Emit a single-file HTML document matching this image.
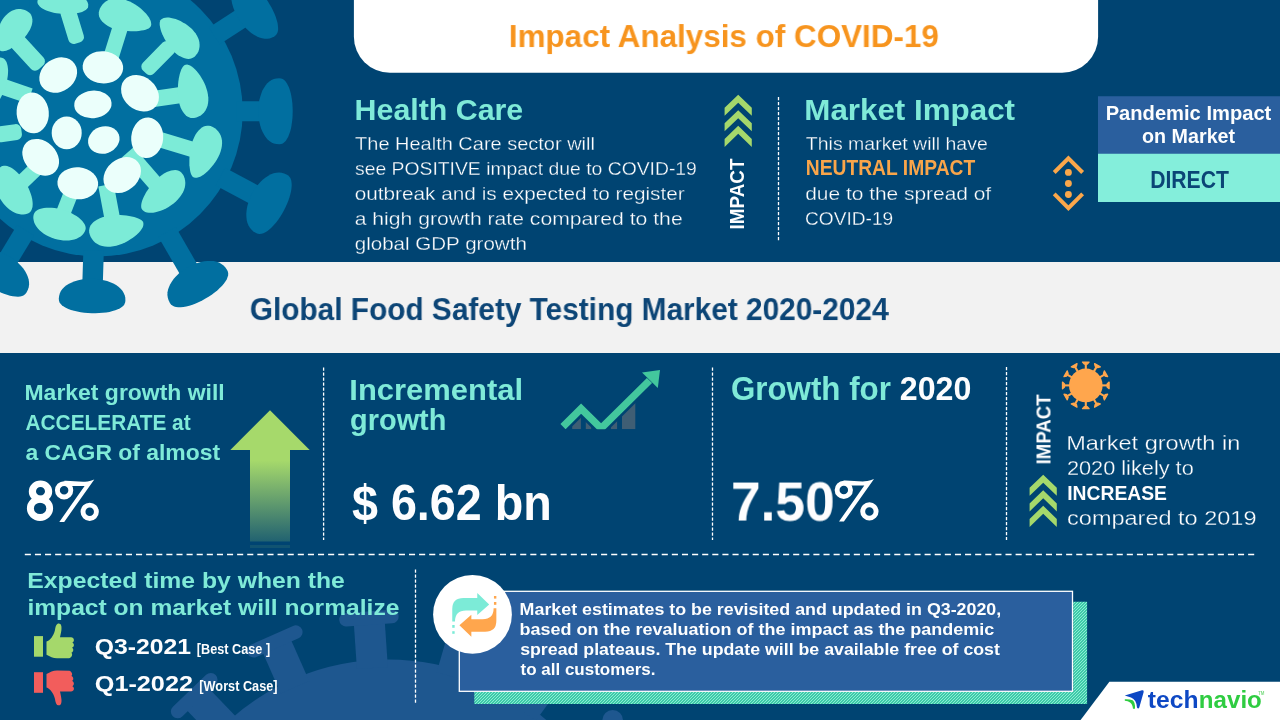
<!DOCTYPE html>
<html><head><meta charset="utf-8"><title>Impact Analysis of COVID-19</title>
<style>
html,body{margin:0;padding:0;background:#004472;}
body{width:1280px;height:720px;overflow:hidden;font-family:"Liberation Sans",sans-serif;}
svg{display:block;position:absolute;left:0;top:0;will-change:transform}
text{font-family:"Liberation Sans",sans-serif;white-space:pre}
</style></head><body>
<svg width="1280" height="720" viewBox="0 0 1280 720">
<defs>
<linearGradient id="garrow" x1="0" y1="0" x2="0" y2="1"><stop offset="0" stop-color="#a6d96b"/><stop offset="0.12" stop-color="#a6d96b"/><stop offset="1" stop-color="#a6d96b" stop-opacity="0.2"/></linearGradient>
<pattern id="hatch" patternUnits="userSpaceOnUse" width="3" height="3"><rect width="3" height="3" fill="#1fba96"/><path d="M-0.75,0.75 l1.5,-1.5 M0,3 l3,-3 M2.25,3.75 l1.5,-1.5" stroke="#92f2da" stroke-width="1.06"/></pattern>
</defs>
<rect width="1280" height="720" fill="#004472"/>
<g fill="#1e578f" stroke="#1e578f">
<circle cx="388.0" cy="897.0" r="237.5" stroke="none"/>
<line x1="159.8" y1="872.6" x2="110.1" y2="867.3" stroke-width="31" />
<line x1="107.6" y1="890.2" x2="112.5" y2="844.4" stroke-width="13.5" stroke-linecap="round"/>
<line x1="181.9" y1="796.0" x2="137.0" y2="774.0" stroke-width="31" />
<line x1="126.9" y1="794.7" x2="147.1" y2="753.4" stroke-width="13.5" stroke-linecap="round"/>
<line x1="228.9" y1="731.6" x2="194.2" y2="695.6" stroke-width="31" />
<line x1="177.6" y1="711.6" x2="210.8" y2="679.7" stroke-width="13.5" stroke-linecap="round"/>
<line x1="295.0" y1="687.2" x2="274.8" y2="641.5" stroke-width="31" />
<line x1="253.7" y1="650.8" x2="295.8" y2="632.1" stroke-width="13.5" stroke-linecap="round"/>
<line x1="372.4" y1="668.0" x2="369.0" y2="618.1" stroke-width="31" />
<line x1="346.0" y1="619.7" x2="391.9" y2="616.6" stroke-width="13.5" stroke-linecap="round"/>
<line x1="451.6" y1="676.5" x2="465.5" y2="628.5" stroke-width="31" />
<line x1="443.4" y1="622.1" x2="487.6" y2="634.8" stroke-width="13.5" stroke-linecap="round"/>
<line x1="523.2" y1="711.6" x2="552.7" y2="671.2" stroke-width="31" />
<line x1="534.1" y1="657.6" x2="571.3" y2="684.7" stroke-width="13.5" stroke-linecap="round"/>
<line x1="578.5" y1="769.0" x2="620.0" y2="741.1" stroke-width="31" />
<circle cx="612.7" cy="720.3" r="10.3" stroke="none"/>
<line x1="610.8" y1="841.9" x2="659.3" y2="829.9" stroke-width="31" />
<line x1="653.8" y1="807.5" x2="664.8" y2="852.2" stroke-width="13.5" stroke-linecap="round"/>
</g>
<rect x="0" y="262" width="1280" height="91" fill="#f2f2f2"/>
<g fill="#016fa0" stroke="#016fa0">
<circle cx="97.7" cy="111.5" r="145.0" stroke="none"/>
<circle cx="0" cy="0" r="30" stroke="none"/>
<line x1="214.3" y1="35.9" x2="253.5" y2="10.5" stroke-width="20.0"/>
<polygon stroke="none" points="238.7,-19.2 240.4,-20.1 242.0,-20.4 243.8,-20.3 245.7,-19.9 247.7,-19.1 249.9,-17.9 252.1,-16.4 254.4,-14.6 256.7,-12.5 259.0,-10.1 261.3,-7.5 263.5,-4.7 265.7,-1.8 267.8,1.3 269.7,4.4 271.5,7.6 273.1,10.8 274.6,13.9 275.8,17.0 276.7,20.0 277.5,22.8 277.9,25.4 278.1,27.8 278.1,30.0 277.7,31.9 277.0,33.6 276.0,35.0 274.6,36.2 274.6,36.2 272.1,37.6 269.6,38.4 267.2,38.8 264.6,38.7 262.0,38.3 259.3,37.5 256.6,36.3 253.9,34.8 251.2,32.9 248.6,30.8 246.0,28.3 243.6,25.7 241.3,22.8 239.2,19.7 237.3,16.6 235.6,13.3 234.2,10.0 233.0,6.7 232.1,3.4 231.5,0.2 231.2,-2.9 231.2,-5.8 231.6,-8.6 232.3,-11.2 233.3,-13.5 234.6,-15.6 236.4,-17.5 238.7,-19.2"/>
<line x1="236.7" y1="111.3" x2="275.5" y2="111.2" stroke-width="20.0"/>
<polygon stroke="none" points="279.2,78.2 281.1,78.4 282.7,79.0 284.2,80.0 285.6,81.5 286.8,83.2 288.0,85.4 289.1,87.8 290.0,90.6 290.8,93.6 291.5,96.9 292.0,100.3 292.4,103.8 292.6,107.5 292.7,111.2 292.6,114.9 292.4,118.5 292.0,122.1 291.5,125.5 290.9,128.7 290.1,131.8 289.1,134.5 288.1,137.0 286.9,139.1 285.7,140.9 284.3,142.3 282.8,143.4 281.2,144.0 279.3,144.2 279.3,144.2 276.4,144.0 273.9,143.4 271.6,142.4 269.4,140.9 267.4,139.2 265.6,137.0 264.0,134.6 262.5,131.8 261.2,128.8 260.2,125.5 259.4,122.1 258.8,118.6 258.4,114.9 258.3,111.2 258.4,107.5 258.8,103.9 259.3,100.3 260.2,96.9 261.2,93.7 262.4,90.6 263.9,87.9 265.5,85.4 267.3,83.3 269.3,81.5 271.5,80.1 273.8,79.0 276.3,78.4 279.2,78.2"/>
<line x1="220.4" y1="176.7" x2="268.0" y2="202.0" stroke-width="20.0"/>
<polygon stroke="none" points="287.0,174.7 288.6,175.8 289.8,177.2 290.7,178.8 291.3,180.7 291.6,182.9 291.7,185.4 291.5,188.1 291.1,191.0 290.4,194.0 289.5,197.2 288.4,200.5 287.1,203.8 285.6,207.1 283.9,210.4 282.1,213.7 280.2,216.8 278.2,219.7 276.1,222.5 273.9,225.0 271.8,227.3 269.6,229.3 267.5,230.9 265.4,232.3 263.4,233.2 261.5,233.8 259.6,234.0 257.8,233.7 256.0,233.0 256.0,233.0 253.4,231.4 251.4,229.6 249.7,227.6 248.4,225.3 247.4,222.7 246.7,219.9 246.4,216.9 246.3,213.8 246.6,210.5 247.1,207.1 248.0,203.7 249.1,200.3 250.5,196.9 252.1,193.6 253.9,190.3 256.0,187.3 258.2,184.5 260.6,181.8 263.0,179.5 265.6,177.4 268.3,175.7 270.9,174.3 273.6,173.3 276.3,172.7 279.0,172.6 281.6,172.8 284.2,173.5 287.0,174.7"/>
<line x1="167.1" y1="231.9" x2="196.5" y2="283.0" stroke-width="20.0"/>
<polygon stroke="none" points="227.1,270.0 227.9,271.8 228.2,273.5 228.1,275.4 227.5,277.3 226.7,279.4 225.4,281.5 223.8,283.7 221.9,285.9 219.7,288.1 217.3,290.4 214.6,292.5 211.7,294.7 208.6,296.7 205.5,298.6 202.2,300.4 199.0,302.0 195.7,303.4 192.5,304.7 189.3,305.7 186.3,306.5 183.4,307.0 180.7,307.3 178.2,307.3 176.0,307.0 174.1,306.5 172.4,305.6 171.0,304.5 169.9,302.9 169.9,302.9 168.5,300.1 167.8,297.6 167.4,295.0 167.5,292.3 168.1,289.6 169.0,286.9 170.2,284.2 171.9,281.5 173.8,278.8 176.1,276.3 178.6,273.8 181.4,271.5 184.4,269.4 187.5,267.4 190.8,265.7 194.1,264.2 197.5,262.9 200.9,262.0 204.3,261.3 207.5,260.9 210.7,260.9 213.7,261.1 216.5,261.7 219.1,262.6 221.4,263.9 223.5,265.5 225.4,267.4 227.1,270.0"/>
<line x1="93.6" y1="250.4" x2="92.2" y2="296.0" stroke-width="20.5"/>
<polygon stroke="none" points="125.4,300.8 125.1,302.6 124.4,304.2 123.4,305.7 121.9,307.0 120.0,308.2 117.8,309.3 115.3,310.3 112.5,311.1 109.5,311.9 106.2,312.4 102.7,312.8 99.1,313.1 95.4,313.2 91.7,313.2 88.0,313.0 84.3,312.7 80.7,312.2 77.3,311.6 74.0,310.8 71.0,309.9 68.3,308.9 65.8,307.8 63.7,306.5 61.9,305.2 60.5,303.8 59.5,302.3 59.0,300.7 58.8,298.8 58.8,298.8 59.1,295.9 59.8,293.4 60.9,291.1 62.4,289.0 64.3,287.1 66.5,285.3 69.0,283.7 71.8,282.4 74.9,281.2 78.2,280.3 81.7,279.5 85.3,279.1 89.0,278.8 92.7,278.8 96.4,279.0 100.1,279.5 103.7,280.2 107.1,281.1 110.3,282.3 113.3,283.6 116.1,285.1 118.5,286.8 120.6,288.7 122.4,290.8 123.7,293.0 124.7,295.3 125.3,297.8 125.4,300.8"/>
<line x1="25.6" y1="230.3" x2="0.3" y2="272.0" stroke-width="20.0"/>
<polygon stroke="none" points="26.5,292.5 25.3,294.1 23.9,295.2 22.2,296.0 20.2,296.5 18.0,296.7 15.5,296.6 12.9,296.3 10.0,295.7 7.0,294.8 3.9,293.7 0.6,292.4 -2.6,290.9 -5.8,289.2 -9.0,287.4 -12.2,285.4 -15.2,283.3 -18.0,281.1 -20.6,278.9 -23.0,276.6 -25.2,274.3 -27.0,272.1 -28.6,269.8 -29.8,267.7 -30.6,265.6 -31.1,263.7 -31.1,261.8 -30.8,260.0 -30.0,258.3 -30.0,258.3 -28.2,255.8 -26.3,253.8 -24.2,252.3 -21.8,251.1 -19.2,250.3 -16.4,249.7 -13.4,249.5 -10.2,249.7 -7.0,250.1 -3.6,250.9 -0.3,251.9 3.1,253.2 6.4,254.8 9.6,256.6 12.7,258.6 15.7,260.8 18.4,263.2 20.9,265.7 23.1,268.3 25.0,271.0 26.5,273.7 27.7,276.5 28.6,279.2 29.0,282.0 29.1,284.6 28.7,287.2 27.9,289.8 26.5,292.5"/>
</g>
<g fill="#7cebd7" stroke="#7cebd7">
<rect x="0" y="-8.5" width="39.8" height="17.0" rx="5.5" stroke="none" transform="translate(14.0 38.0) rotate(47.3)"/>
<polygon stroke="none" points="28.7,12.2 26.9,11.0 24.9,10.1 22.8,9.4 20.7,9.1 18.4,9.0 16.2,9.3 14.0,9.9 11.9,10.8 9.8,12.0 7.9,13.5 6.0,15.2 4.3,17.1 2.7,19.3 1.3,21.6 0.1,24.0 -1.0,26.5 -1.9,29.1 -2.6,31.6 -3.2,34.2 -3.6,36.6 -3.8,39.0 -3.8,41.2 -3.7,43.3 -3.3,45.1 -2.8,46.8 -2.1,48.3 -1.2,49.5 -0.2,50.5 -0.2,50.5 0.8,51.0 1.9,51.3 3.2,51.3 4.6,51.1 6.2,50.7 7.9,50.1 9.8,49.2 11.7,48.1 13.7,46.9 15.7,45.5 17.8,43.9 19.8,42.2 21.8,40.4 23.7,38.4 25.4,36.4 27.1,34.3 28.5,32.1 29.8,30.0 30.8,27.8 31.6,25.6 32.1,23.5 32.4,21.5 32.4,19.5 32.1,17.7 31.6,16.0 30.9,14.5 29.9,13.3 28.7,12.2"/>
<rect x="0" y="-8.0" width="36.6" height="16.0" rx="5.5" stroke="none" transform="translate(67.0 8.0) rotate(73.0)"/>
<polygon stroke="none" points="37.4,1.7 37.7,0.2 38.3,-1.3 39.3,-2.8 40.5,-4.1 42.0,-5.3 43.7,-6.5 45.7,-7.5 47.9,-8.3 50.3,-9.0 52.9,-9.5 55.6,-9.9 58.4,-10.1 61.2,-10.1 64.0,-10.0 66.9,-9.6 69.7,-9.1 72.4,-8.4 74.9,-7.6 77.4,-6.6 79.6,-5.5 81.7,-4.3 83.4,-3.0 85.0,-1.6 86.2,-0.1 87.2,1.4 87.9,3.0 88.2,4.6 88.2,6.1 88.2,6.1 88.0,7.2 87.4,8.3 86.5,9.3 85.3,10.3 83.9,11.1 82.1,11.9 80.2,12.6 78.0,13.1 75.6,13.6 73.1,13.9 70.4,14.1 67.6,14.2 64.8,14.1 62.0,14.0 59.1,13.6 56.3,13.2 53.6,12.7 51.0,12.0 48.6,11.2 46.3,10.4 44.2,9.4 42.4,8.4 40.9,7.4 39.6,6.3 38.6,5.1 37.9,4.0 37.5,2.8 37.4,1.7"/>
<rect x="0" y="-7.8" width="36.7" height="15.5" rx="0.0" stroke="none" transform="translate(121.0 25.0) rotate(107.4)"/>
<polygon stroke="none" points="99.1,10.9 99.9,8.6 101.1,6.4 102.5,4.5 104.2,2.7 106.2,1.2 108.3,0.0 110.7,-0.9 113.2,-1.4 115.8,-1.7 118.6,-1.6 121.4,-1.2 124.2,-0.6 127.0,0.4 129.8,1.6 132.6,3.0 135.2,4.6 137.8,6.3 140.2,8.1 142.4,10.0 144.4,11.9 146.2,13.8 147.7,15.7 149.0,17.6 150.0,19.4 150.7,21.1 151.1,22.7 151.2,24.3 151.0,25.7 151.0,25.7 150.5,26.7 149.8,27.6 148.7,28.4 147.3,29.1 145.6,29.7 143.6,30.2 141.4,30.6 138.9,30.9 136.3,31.2 133.5,31.3 130.6,31.3 127.6,31.1 124.6,30.8 121.6,30.4 118.6,29.8 115.7,29.1 112.9,28.2 110.3,27.2 107.9,26.0 105.7,24.6 103.8,23.1 102.2,21.5 100.8,19.8 99.8,18.0 99.1,16.2 98.8,14.4 98.8,12.6 99.1,10.9"/>
<rect x="0" y="-7.8" width="39.2" height="15.5" rx="5.5" stroke="none" transform="translate(172.0 44.0) rotate(134.5)"/>
<polygon stroke="none" points="161.1,19.5 162.3,18.7 163.7,18.0 165.3,17.7 167.1,17.5 169.0,17.6 171.1,17.9 173.3,18.4 175.7,19.1 178.1,20.0 180.5,21.1 182.9,22.4 185.4,23.8 187.7,25.5 189.9,27.2 192.0,29.1 193.8,31.2 195.5,33.3 196.9,35.5 198.0,37.8 198.9,40.1 199.4,42.5 199.6,44.8 199.5,47.1 199.1,49.3 198.4,51.4 197.4,53.3 196.1,55.1 194.6,56.7 194.6,56.7 193.3,57.6 191.8,58.3 190.2,58.7 188.4,58.9 186.6,58.7 184.6,58.3 182.6,57.6 180.6,56.6 178.5,55.4 176.5,53.9 174.6,52.2 172.7,50.2 170.8,48.2 169.1,46.0 167.5,43.7 166.0,41.3 164.6,38.9 163.4,36.5 162.3,34.2 161.4,31.9 160.7,29.7 160.2,27.7 159.8,25.8 159.7,24.2 159.7,22.7 160.0,21.4 160.4,20.3 161.1,19.5"/>
<rect x="0" y="-8.0" width="38.4" height="16.0" rx="0.0" stroke="none" transform="translate(188.0 94.0) rotate(171.8)"/>
<polygon stroke="none" points="185.7,64.7 187.1,64.6 188.6,64.9 190.1,65.5 191.7,66.5 193.3,67.7 194.9,69.2 196.6,71.0 198.2,73.0 199.9,75.2 201.4,77.7 202.9,80.3 204.3,83.0 205.5,85.8 206.5,88.7 207.4,91.7 207.9,94.6 208.3,97.5 208.3,100.3 208.1,103.0 207.6,105.6 206.7,108.0 205.6,110.3 204.2,112.2 202.5,114.0 200.7,115.5 198.6,116.6 196.4,117.5 194.1,118.0 194.1,118.0 192.4,118.1 190.7,117.9 189.0,117.3 187.3,116.4 185.7,115.2 184.2,113.6 182.9,111.8 181.7,109.7 180.6,107.4 179.7,104.8 179.0,102.1 178.5,99.3 178.1,96.3 177.9,93.3 177.8,90.2 177.9,87.2 178.1,84.2 178.4,81.3 178.8,78.6 179.3,76.0 179.9,73.6 180.6,71.5 181.3,69.6 182.1,68.0 182.9,66.7 183.8,65.7 184.7,65.0 185.7,64.7"/>
<rect x="0" y="-7.8" width="39.7" height="15.5" rx="0.0" stroke="none" transform="translate(198.0 151.0) rotate(-163.2)"/>
<polygon stroke="none" points="210.6,126.1 212.8,127.0 214.9,128.2 216.7,129.7 218.3,131.4 219.7,133.4 220.7,135.6 221.5,138.0 222.0,140.5 222.1,143.1 221.9,145.8 221.4,148.6 220.6,151.4 219.6,154.2 218.3,157.0 216.8,159.7 215.2,162.3 213.4,164.8 211.5,167.1 209.6,169.3 207.6,171.2 205.7,173.0 203.8,174.5 201.9,175.7 200.2,176.7 198.5,177.3 196.9,177.7 195.3,177.7 194.0,177.5 194.0,177.5 193.0,177.0 192.2,176.2 191.5,175.1 190.9,173.7 190.4,171.9 190.0,170.0 189.7,167.7 189.4,165.3 189.4,162.7 189.4,159.9 189.5,157.0 189.8,154.0 190.2,151.0 190.7,148.0 191.4,145.1 192.2,142.2 193.2,139.5 194.3,136.9 195.6,134.5 197.0,132.4 198.6,130.5 200.2,128.9 201.9,127.6 203.7,126.6 205.4,126.0 207.2,125.7 209.0,125.7 210.6,126.1"/>
<rect x="0" y="-7.8" width="48.9" height="15.5" rx="0.0" stroke="none" transform="translate(160.0 189.0) rotate(-130.9)"/>
<polygon stroke="none" points="181.3,172.6 182.7,174.2 183.8,176.1 184.6,178.2 185.1,180.4 185.3,182.7 185.2,185.1 184.8,187.5 184.0,190.0 182.9,192.4 181.5,194.8 179.9,197.1 178.0,199.3 175.9,201.5 173.6,203.4 171.1,205.3 168.6,206.9 166.0,208.4 163.3,209.7 160.7,210.7 158.1,211.6 155.5,212.2 153.1,212.7 150.9,212.8 148.8,212.8 146.9,212.5 145.2,211.9 143.7,211.1 142.5,210.1 142.5,210.1 141.8,209.1 141.3,208.0 141.2,206.6 141.2,204.9 141.5,203.1 142.0,201.2 142.8,199.1 143.8,196.8 145.0,194.5 146.3,192.1 147.9,189.7 149.6,187.2 151.4,184.9 153.4,182.6 155.5,180.4 157.7,178.3 159.9,176.5 162.2,174.8 164.5,173.3 166.8,172.1 169.0,171.2 171.2,170.6 173.3,170.2 175.2,170.1 177.0,170.3 178.7,170.8 180.1,171.6 181.3,172.6"/>
<rect x="0" y="-7.8" width="37.7" height="15.5" rx="0.0" stroke="none" transform="translate(113.0 222.0) rotate(-100.7)"/>
<polygon stroke="none" points="89.2,232.4 89.8,234.8 90.7,237.0 92.0,239.1 93.5,241.0 95.3,242.7 97.4,244.1 99.6,245.3 102.1,246.1 104.8,246.6 107.6,246.8 110.4,246.7 113.4,246.3 116.3,245.7 119.3,244.8 122.2,243.7 125.1,242.4 127.8,240.9 130.5,239.3 132.9,237.7 135.2,236.0 137.2,234.2 139.0,232.5 140.5,230.8 141.7,229.1 142.6,227.5 143.2,225.9 143.4,224.3 143.4,222.9 143.4,222.9 143.0,221.8 142.3,220.9 141.3,220.0 139.9,219.2 138.3,218.4 136.4,217.7 134.2,217.0 131.7,216.5 129.1,216.0 126.3,215.6 123.3,215.3 120.3,215.1 117.2,215.1 114.1,215.2 111.0,215.5 108.0,215.9 105.1,216.5 102.3,217.3 99.8,218.3 97.4,219.4 95.3,220.7 93.5,222.1 91.9,223.7 90.7,225.3 89.8,227.1 89.3,228.9 89.1,230.6 89.2,232.4"/>
<rect x="0" y="-7.2" width="30.1" height="14.5" rx="0.0" stroke="none" transform="translate(62.0 216.0) rotate(-68.6)"/>
<polygon stroke="none" points="33.8,214.2 33.4,216.1 33.3,218.1 33.6,220.1 34.1,222.2 35.0,224.3 36.2,226.3 37.7,228.3 39.5,230.2 41.6,232.0 43.8,233.7 46.3,235.2 48.9,236.6 51.7,237.8 54.5,238.7 57.4,239.5 60.4,240.1 63.3,240.4 66.2,240.5 69.0,240.4 71.7,240.0 74.3,239.5 76.6,238.7 78.8,237.6 80.7,236.4 82.3,235.1 83.6,233.5 84.7,231.8 85.4,230.0 85.4,230.0 85.7,228.6 85.6,227.1 85.2,225.6 84.5,224.0 83.4,222.4 82.1,220.8 80.5,219.2 78.6,217.6 76.5,216.1 74.1,214.7 71.6,213.3 68.9,212.1 66.2,211.0 63.3,210.1 60.4,209.2 57.4,208.6 54.6,208.1 51.7,207.8 49.0,207.7 46.4,207.8 43.9,208.0 41.7,208.4 39.7,209.0 37.9,209.8 36.4,210.7 35.2,211.7 34.4,212.9 33.8,214.2"/>
<rect x="0" y="-7.5" width="33.2" height="15.0" rx="0.0" stroke="none" transform="translate(18.0 186.0) rotate(-43.8)"/>
<polygon stroke="none" points="1.2,166.6 -0.4,167.8 -1.8,169.2 -3.0,170.9 -3.9,172.8 -4.7,174.9 -5.1,177.3 -5.3,179.7 -5.3,182.3 -5.0,185.0 -4.4,187.8 -3.6,190.6 -2.6,193.4 -1.3,196.1 0.1,198.7 1.8,201.3 3.6,203.7 5.6,205.9 7.7,207.9 9.8,209.7 12.1,211.2 14.3,212.5 16.6,213.4 18.9,214.1 21.1,214.5 23.3,214.6 25.3,214.3 27.2,213.8 29.0,212.9 29.0,212.9 30.1,212.0 31.0,210.9 31.7,209.5 32.3,207.8 32.6,205.9 32.7,203.8 32.5,201.5 32.2,199.1 31.6,196.6 30.8,194.0 29.8,191.3 28.7,188.6 27.3,185.9 25.9,183.3 24.2,180.7 22.5,178.3 20.7,176.0 18.8,173.9 16.8,172.0 14.8,170.3 12.9,168.8 10.9,167.6 9.0,166.7 7.2,166.1 5.5,165.8 3.9,165.8 2.4,166.0 1.2,166.6"/>
<rect x="0" y="-8.0" width="40.2" height="16.0" rx="0.0" stroke="none" transform="translate(-8.0 83.0) rotate(18.9)"/>
<polygon stroke="none" points="2.5,58.0 0.7,57.6 -1.2,57.5 -3.1,57.8 -5.1,58.4 -7.0,59.3 -9.0,60.5 -10.9,62.0 -12.7,63.8 -14.5,65.8 -16.2,68.0 -17.7,70.5 -19.1,73.1 -20.3,75.8 -21.3,78.7 -22.2,81.6 -22.8,84.5 -23.2,87.4 -23.4,90.3 -23.4,93.1 -23.1,95.8 -22.7,98.3 -22.0,100.6 -21.2,102.8 -20.1,104.7 -18.8,106.3 -17.4,107.6 -15.9,108.6 -14.2,109.4 -14.2,109.4 -12.9,109.6 -11.5,109.5 -10.1,109.1 -8.5,108.4 -7.0,107.4 -5.4,106.0 -3.9,104.4 -2.3,102.5 -0.8,100.4 0.6,98.1 1.9,95.6 3.2,92.9 4.3,90.2 5.3,87.3 6.2,84.4 6.9,81.5 7.4,78.6 7.8,75.8 8.0,73.1 8.1,70.5 7.9,68.1 7.6,65.9 7.1,63.9 6.5,62.1 5.7,60.7 4.8,59.5 3.7,58.6 2.5,58.0"/>
<rect x="0" y="-8.0" width="26.8" height="16.0" rx="5.5" stroke="none" transform="translate(-5.0 135.0) rotate(-7.9)"/>
<polygon stroke="none" points="-31.0,139.8 -31.0,140.0 -31.0,140.1 -30.9,140.2 -30.9,140.3 -30.8,140.5 -30.8,140.6 -30.7,140.7 -30.6,140.7 -30.5,140.8 -30.4,140.9 -30.3,140.9 -30.2,141.0 -30.1,141.0 -30.0,141.0 -29.9,141.0 -29.8,141.0 -29.7,140.9 -29.6,140.9 -29.5,140.8 -29.4,140.7 -29.3,140.7 -29.2,140.6 -29.2,140.5 -29.1,140.3 -29.1,140.2 -29.0,140.1 -29.0,140.0 -29.0,139.8 -29.0,139.8 -29.0,139.7 -29.0,139.7 -29.1,139.6 -29.1,139.5 -29.2,139.4 -29.2,139.3 -29.3,139.2 -29.4,139.2 -29.5,139.1 -29.6,139.1 -29.7,139.0 -29.8,139.0 -29.9,139.0 -30.0,139.0 -30.1,139.0 -30.2,139.0 -30.3,139.0 -30.4,139.1 -30.5,139.1 -30.6,139.2 -30.7,139.2 -30.8,139.3 -30.8,139.4 -30.9,139.5 -30.9,139.6 -31.0,139.7 -31.0,139.7 -31.0,139.8"/>
</g>
<g fill="#ebfffb">
<ellipse rx="20.0" ry="16.5" transform="translate(58.2 75.1) rotate(-35.0)"/>
<ellipse rx="20.3" ry="16.1" transform="translate(102.9 67.3) rotate(5.0)"/>
<ellipse rx="20.5" ry="16.5" transform="translate(140.0 93.3) rotate(40.0)"/>
<ellipse rx="16.1" ry="20.5" transform="translate(32.7 112.9) rotate(-5.0)"/>
<ellipse rx="18.7" ry="13.8" transform="translate(92.9 104.4) rotate(-5.0)"/>
<ellipse rx="15.0" ry="16.3" transform="translate(66.7 132.9) rotate(0.0)"/>
<ellipse rx="16.0" ry="13.5" transform="translate(103.8 140.0) rotate(-20.0)"/>
<ellipse rx="16.0" ry="20.3" transform="translate(147.2 137.8) rotate(5.0)"/>
<ellipse rx="20.5" ry="16.0" transform="translate(40.7 157.3) rotate(45.0)"/>
<ellipse rx="20.4" ry="16.0" transform="translate(77.8 183.3) rotate(5.0)"/>
<ellipse rx="20.5" ry="16.0" transform="translate(122.2 175.1) rotate(-40.0)"/>
</g>
<path d="M353.9,0 H1098.1 V36.75 a36,36 0 0 1 -36,36 H389.9 a36,36 0 0 1 -36,-36 Z" fill="#fff"/>
<rect x="1098" y="96.25" width="182" height="57.75" fill="#2a5f9e"/>
<rect x="1098" y="153.75" width="182" height="48.25" fill="#84eedb"/>
<polygon points="724.6,107.8 738.2,94.7 751.8,107.8 751.8,115.8 738.2,102.7 724.6,115.8" fill="#a5d86b"/>
<polygon points="724.6,123.3 738.2,110.2 751.8,123.3 751.8,131.3 738.2,118.2 724.6,131.3" fill="#a5d86b"/>
<polygon points="724.6,138.9 738.2,125.8 751.8,138.9 751.8,146.9 738.2,133.8 724.6,146.9" fill="#a5d86b"/>
<polygon points="1029.6,487.8 1043.2,474.7 1056.8,487.8 1056.8,495.8 1043.2,482.7 1029.6,495.8" fill="#a5d86b"/>
<polygon points="1029.6,503.4 1043.2,490.2 1056.8,503.4 1056.8,511.4 1043.2,498.2 1029.6,511.4" fill="#a5d86b"/>
<polygon points="1029.6,518.9 1043.2,505.8 1056.8,518.9 1056.8,526.9 1043.2,513.8 1029.6,526.9" fill="#a5d86b"/>
<line x1="778.5" y1="97.0" x2="778.5" y2="241.5" stroke="#fff" stroke-width="1.3" stroke-dasharray="3.2 1.8"/>
<line x1="323.6" y1="367.5" x2="323.6" y2="540.0" stroke="#fff" stroke-width="1.3" stroke-dasharray="3.2 1.8"/>
<line x1="712.5" y1="367.5" x2="712.5" y2="540.0" stroke="#fff" stroke-width="1.3" stroke-dasharray="3.2 1.8"/>
<line x1="1006.5" y1="367.0" x2="1006.5" y2="540.0" stroke="#fff" stroke-width="1.3" stroke-dasharray="3.2 1.8"/>
<line x1="415.5" y1="569.5" x2="415.5" y2="703.5" stroke="#fff" stroke-width="1.3" stroke-dasharray="3.2 1.8"/>
<line x1="24.8" y1="554.45" x2="1254.5" y2="554.45" stroke="#fff" stroke-width="1.35" stroke-dasharray="6.1 4.01"/>
<g fill="none" stroke="#fba74a" stroke-width="4"><polyline points="1054.2,172.5 1068.4,158.3 1082.6,172.5"/><polyline points="1054.2,193.9 1068.4,208.1 1082.6,193.9"/></g>
<g fill="#fba74a"><circle cx="1068.4" cy="172.4" r="3.45"/><circle cx="1068.4" cy="183.5" r="3.45"/><circle cx="1068.4" cy="194.5" r="3.45"/></g>
<polygon points="270,410.3 309.7,450 230.3,450" fill="#a6d96b"/>
<rect x="250" y="449.5" width="40" height="92" fill="url(#garrow)"/>
<rect x="250" y="545" width="40" height="3" fill="#a6d96b" opacity="0.10"/>
<g><clipPath id="cpl"><rect x="555" y="365" width="110" height="64.2"/></clipPath><g clip-path="url(#cpl)">
<g fill="#3f5e74"><rect x="572.2" y="415" width="8.7" height="14.2"/><rect x="585.8" y="415" width="5.4" height="14.2"/><rect x="610.9" y="418" width="6.2" height="11.2"/><rect x="622" y="400" width="13.3" height="29.2"/></g>
<polyline points="563,426.7 581.1,408.7 601.1,428.3 649.5,380.5" fill="none" stroke="#004472" stroke-width="12.5" stroke-linejoin="miter"/>
<polyline points="563,426.7 581.1,408.7 601.1,428.3 649.5,380.5" fill="none" stroke="#43c79d" stroke-width="7.3" stroke-linejoin="miter"/>
</g><polygon points="660,370 642,372.4 657.8,388" fill="#43c79d"/></g>
<g transform="translate(0.0 0.0)" fill="none" stroke="#fff"><circle cx="843.8" cy="489.9" r="6.7" stroke-width="4.9"/><circle cx="869.4" cy="511.4" r="6.7" stroke-width="4.9"/><path d="M839,521.5 L843.9,521.5 L874,479 C869,481 865,481.4 862.8,481.4 C856,481.4 850,480.2 843.5,480.5 L849,485.6 L864.3,485.6 Z" fill="#fff" stroke="none"/></g>
<g transform="translate(-779.7 0.4)" fill="none" stroke="#fff"><circle cx="843.8" cy="489.9" r="6.7" stroke-width="4.9"/><circle cx="869.4" cy="511.4" r="6.7" stroke-width="4.9"/><path d="M839,521.5 L843.9,521.5 L874,479 C869,481 865,481.4 862.8,481.4 C856,481.4 850,480.2 843.5,480.5 L849,485.6 L864.3,485.6 Z" fill="#fff" stroke="none"/></g>
<g fill="#fff" fill-rule="evenodd"><path d="M28.8,491.5 a11.7,10.9 0 1 0 23.4,0 a11.7,10.9 0 1 0 -23.4,0 Z M36,491.3 a4.5,4.3 0 1 0 9,0 a4.5,4.3 0 1 0 -9,0 Z"/><path d="M26.9,508.3 a13.1,12.6 0 1 0 26.2,0 a13.1,12.6 0 1 0 -26.2,0 Z M33.9,508.4 a6.2,5.7 0 1 0 12.4,0 a6.2,5.7 0 1 0 -12.4,0 Z"/></g>
<g fill="#ffa64d" stroke="#ffa64d"><circle cx="1085.8" cy="385.4" r="16.8" stroke="none"/><line x1="1100.80" y1="385.40" x2="1107.80" y2="385.40" stroke-width="2.1"/><polygon points="1107.10,383.90 1109.10,382.10 1109.10,388.70 1107.10,386.90" stroke-width="1.3" stroke-linejoin="round"/><line x1="1098.79" y1="392.90" x2="1104.85" y2="396.40" stroke-width="2.1"/><polygon points="1105.00,394.75 1107.63,394.19 1104.33,399.91 1103.50,397.35" stroke-width="1.3" stroke-linejoin="round"/><line x1="1093.30" y1="398.39" x2="1096.80" y2="404.45" stroke-width="2.1"/><polygon points="1097.75,403.10 1100.31,403.93 1094.59,407.23 1095.15,404.60" stroke-width="1.3" stroke-linejoin="round"/><line x1="1085.80" y1="400.40" x2="1085.80" y2="407.40" stroke-width="2.1"/><polygon points="1087.30,406.70 1089.10,408.70 1082.50,408.70 1084.30,406.70" stroke-width="1.3" stroke-linejoin="round"/><line x1="1078.30" y1="398.39" x2="1074.80" y2="404.45" stroke-width="2.1"/><polygon points="1076.45,404.60 1077.01,407.23 1071.29,403.93 1073.85,403.10" stroke-width="1.3" stroke-linejoin="round"/><line x1="1072.81" y1="392.90" x2="1066.75" y2="396.40" stroke-width="2.1"/><polygon points="1068.10,397.35 1067.27,399.91 1063.97,394.19 1066.60,394.75" stroke-width="1.3" stroke-linejoin="round"/><line x1="1070.80" y1="385.40" x2="1063.80" y2="385.40" stroke-width="2.1"/><polygon points="1064.50,386.90 1062.50,388.70 1062.50,382.10 1064.50,383.90" stroke-width="1.3" stroke-linejoin="round"/><line x1="1072.81" y1="377.90" x2="1066.75" y2="374.40" stroke-width="2.1"/><polygon points="1066.60,376.05 1063.97,376.61 1067.27,370.89 1068.10,373.45" stroke-width="1.3" stroke-linejoin="round"/><line x1="1078.30" y1="372.41" x2="1074.80" y2="366.35" stroke-width="2.1"/><polygon points="1073.85,367.70 1071.29,366.87 1077.01,363.57 1076.45,366.20" stroke-width="1.3" stroke-linejoin="round"/><line x1="1085.80" y1="370.40" x2="1085.80" y2="363.40" stroke-width="2.1"/><polygon points="1084.30,364.10 1082.50,362.10 1089.10,362.10 1087.30,364.10" stroke-width="1.3" stroke-linejoin="round"/><line x1="1093.30" y1="372.41" x2="1096.80" y2="366.35" stroke-width="2.1"/><polygon points="1095.15,366.20 1094.59,363.57 1100.31,366.87 1097.75,367.70" stroke-width="1.3" stroke-linejoin="round"/><line x1="1098.79" y1="377.90" x2="1104.85" y2="374.40" stroke-width="2.1"/><polygon points="1103.50,373.45 1104.33,370.89 1107.63,376.61 1105.00,376.05" stroke-width="1.3" stroke-linejoin="round"/></g>
<g fill="#a5d86b"><rect x="34" y="636.1" width="9" height="20.6"/><path d="M46.5,641.5 C50,640.5 53.5,636 55,630 C55.6,626 56.6,623.6 58.8,623.6 C61.2,623.6 61.8,626.5 61.4,630 C61,633 60.4,635.5 60,637.3 L71,637.3 C74.5,637.5 74.8,641.8 72.3,642.6 C74.6,643.6 74.4,647.2 72,647.8 C74,648.8 73.6,652.2 71.3,652.8 C73,654 72,657.6 69.2,658.2 L57,658.3 C53,658.3 50,656.5 46.5,654.8 Z"/></g>
<g fill="#f25d5c" transform="translate(0 1328.9) scale(1 -1)"><rect x="34" y="636.1" width="9" height="20.6"/><path d="M46.5,641.5 C50,640.5 53.5,636 55,630 C55.6,626 56.6,623.6 58.8,623.6 C61.2,623.6 61.8,626.5 61.4,630 C61,633 60.4,635.5 60,637.3 L71,637.3 C74.5,637.5 74.8,641.8 72.3,642.6 C74.6,643.6 74.4,647.2 72,647.8 C74,648.8 73.6,652.2 71.3,652.8 C73,654 72,657.6 69.2,658.2 L57,658.3 C53,658.3 50,656.5 46.5,654.8 Z"/></g>
<path d="M474.3,692 H1073.2 V601.8 H1087.1 V703.9 H474.3 Z" fill="url(#hatch)"/>
<rect x="459.3" y="591.3" width="613.2" height="100" fill="#2a5f9e" stroke="#fff" stroke-width="1.3"/>
<circle cx="472.5" cy="614.4" r="39.4" fill="#fff"/>
<g fill="#7cebd7"><path d="M477.25,593.1 L489.2,604.6 L477.25,615 L477.25,610.6 L466,610.6 Q455,610.6 455,621.5 L452.25,621.5 L452.25,609 Q452.25,598.1 463.5,598.1 L477.25,598.1 Z"/><rect x="452.25" y="625" width="2.4" height="2.8"/><rect x="452.25" y="631.2" width="2.4" height="2.6"/></g>
<g fill="#ffa64d" transform="rotate(180 474.3 614.9)"><path d="M477.25,593.1 L489.2,604.6 L477.25,615 L477.25,610.6 L466,610.6 Q455,610.6 455,621.5 L452.25,621.5 L452.25,609 Q452.25,598.1 463.5,598.1 L477.25,598.1 Z"/><rect x="452.25" y="625" width="2.4" height="2.8"/><rect x="452.25" y="631.2" width="2.4" height="2.6"/></g>
<polygon points="1109.4,681.8 1280,681.8 1280,720 1080.6,720" fill="#fff"/>
<path d="M1124.8,695.4 L1142,690.3 Q1144.3,689.9 1143.6,692.2 L1139.3,707.6 Q1138.2,709.6 1137,707.6 Q1136.5,699.5 1131,697.5 Z" fill="#0d47c4"/>
<path d="M1124.8,699.2 Q1130,699 1132.6,700.2 Q1135.3,702 1135,708.7 L1133,708.7 Q1132.4,703.8 1130.1,702.4 Q1128,701 1124.8,700.8 Z" fill="#2ecc40"/>
<g opacity="0.996">
<text transform="translate(508.79 47.00) scale(0.9824 1)" font-size="32" font-weight="700" fill="#f7941d" >Impact Analysis of COVID-19</text>
<text transform="translate(354.60 119.50) scale(1.0218 1)" font-size="29.7" font-weight="700" fill="#80ecd9" >Health Care</text>
<text transform="translate(355.07 149.50) scale(1.0806 1)" font-size="18.5" font-weight="400" fill="#ffffff" stroke="#004472" stroke-width="0.28">The Health Care sector will</text>
<text transform="translate(354.98 174.50) scale(1.0463 1)" font-size="18.5" font-weight="400" fill="#ffffff" stroke="#004472" stroke-width="0.28">see POSITIVE impact due to COVID-19</text>
<text transform="translate(354.71 199.50) scale(1.1223 1)" font-size="18.5" font-weight="400" fill="#ffffff" stroke="#004472" stroke-width="0.28">outbreak and is expected to register</text>
<text transform="translate(354.70 224.50) scale(1.1439 1)" font-size="18.5" font-weight="400" fill="#ffffff" stroke="#004472" stroke-width="0.28">a high growth rate compared to the</text>
<text transform="translate(354.72 249.50) scale(1.1116 1)" font-size="18.5" font-weight="400" fill="#ffffff" stroke="#004472" stroke-width="0.28">global GDP growth</text>
<text transform="translate(804.29 119.50) scale(1.0558 1)" font-size="29.7" font-weight="700" fill="#80ecd9" >Market Impact</text>
<text transform="translate(805.83 149.50) scale(1.0538 1)" font-size="18.5" font-weight="400" fill="#ffffff" stroke="#004472" stroke-width="0.28">This market will have</text>
<text transform="translate(805.76 174.50) scale(0.8882 1)" font-size="21.7" font-weight="700" fill="#fba74a" >NEUTRAL IMPACT</text>
<text transform="translate(805.21 199.50) scale(1.1301 1)" font-size="18.5" font-weight="400" fill="#ffffff" stroke="#004472" stroke-width="0.28">due to the spread of</text>
<text transform="translate(805.07 224.50) scale(1.0342 1)" font-size="18.5" font-weight="400" fill="#ffffff" stroke="#004472" stroke-width="0.28">COVID-19</text>
<text transform="translate(1105.69 120.00) scale(1.0074 1)" font-size="20" font-weight="700" fill="#ffffff" >Pandemic Impact</text>
<text transform="translate(1142.06 142.50) scale(0.9855 1)" font-size="20" font-weight="700" fill="#ffffff" >on Market</text>
<text transform="translate(1150.15 187.50) scale(0.9002 1)" font-size="23.5" font-weight="700" fill="#0b4475" >DIRECT</text>
<text transform="translate(249.82 320.00) scale(0.9680 1)" font-size="30.8" font-weight="700" fill="#0b4475" >Global Food Safety Testing Market 2020-2024</text>
<text transform="translate(24.49 400.00) scale(1.0071 1)" font-size="22.8" font-weight="700" fill="#80ecd9" >Market growth will</text>
<text transform="translate(25.54 429.50) scale(0.9138 1)" font-size="22.8" font-weight="700" fill="#80ecd9" >ACCELERATE at</text>
<text transform="translate(25.40 459.50) scale(1.0050 1)" font-size="22.8" font-weight="700" fill="#80ecd9" >a CAGR of almost</text>
<text transform="translate(349.32 399.50) scale(1.0674 1)" font-size="29" font-weight="700" fill="#80ecd9" >Incremental</text>
<text transform="translate(350.10 429.50) scale(0.9964 1)" font-size="29" font-weight="700" fill="#80ecd9" >growth</text>
<text transform="translate(352.00 520.00) scale(0.9525 1)" font-size="49" font-weight="700" fill="#ffffff" >$ 6.62 bn</text>
<text transform="translate(731.02 399.50) scale(0.9483 1)" font-size="33" font-weight="700" fill="#80ecd9" >Growth for</text>
<text transform="translate(899.74 399.50) scale(0.9748 1)" font-size="33" font-weight="700" fill="#ffffff" >2020</text>
<text transform="translate(731.04 520.50) scale(0.9680 1)" font-size="55" font-weight="700" fill="#ffffff" >7.50</text>
<text transform="translate(1066.14 449.50) scale(1.1606 1)" font-size="20.3" font-weight="400" fill="#ffffff" stroke="#004472" stroke-width="0.28">Market growth in</text>
<text transform="translate(1066.93 474.50) scale(1.0711 1)" font-size="20.3" font-weight="400" fill="#ffffff" stroke="#004472" stroke-width="0.28">2020 likely to</text>
<text transform="translate(1067.26 499.50) scale(0.9508 1)" font-size="20.3" font-weight="700" fill="#ffffff" >INCREASE</text>
<text transform="translate(1067.07 524.50) scale(1.1578 1)" font-size="20.3" font-weight="400" fill="#ffffff" stroke="#004472" stroke-width="0.28">compared to 2019</text>
<text transform="translate(27.37 587.50) scale(1.0854 1)" font-size="22.8" font-weight="700" fill="#80ecd9" >Expected time by when the</text>
<text transform="translate(27.38 615.00) scale(1.0799 1)" font-size="22.8" font-weight="700" fill="#80ecd9" >impact on market will normalize</text>
<text transform="translate(94.77 653.75) scale(1.0860 1)" font-size="22.8" font-weight="700" fill="#ffffff" >Q3-2021</text>
<text transform="translate(196.86 653.75) scale(0.9188 1)" font-size="13.8" font-weight="700" fill="#ffffff" >[Best Case ]</text>
<text transform="translate(94.75 690.75) scale(1.1070 1)" font-size="22.8" font-weight="700" fill="#ffffff" >Q1-2022</text>
<text transform="translate(199.35 690.75) scale(0.9225 1)" font-size="13.8" font-weight="700" fill="#ffffff" >[Worst Case]</text>
<text transform="translate(519.62 614.50) scale(1.0257 1)" font-size="17.4" font-weight="700" fill="#ffffff" >Market estimates to be revisited and updated in Q3-2020,</text>
<text transform="translate(519.61 634.50) scale(1.0345 1)" font-size="17.4" font-weight="700" fill="#ffffff" >based on the revaluation of the impact as the pandemic</text>
<text transform="translate(520.14 654.50) scale(1.0215 1)" font-size="17.4" font-weight="700" fill="#ffffff" >spread plateaus. The update will be available free of cost</text>
<text transform="translate(520.55 674.50) scale(0.9767 1)" font-size="17.4" font-weight="700" fill="#ffffff" >to all customers.</text>
<text transform="translate(1147.79 708.20) scale(1.0500 1)" font-size="23.5" font-weight="700" fill="#0d47c4" >tech</text>
<text transform="translate(1198.86 708.20) scale(1.0267 1)" font-size="23.5" font-weight="700" fill="#2ecc40" >navio</text>
<text transform="translate(744.30 229.42) rotate(-90) scale(0.9767 1)" font-size="19.3" font-weight="700" fill="#ffffff" >IMPACT</text>
<text transform="translate(1050.50 464.36) rotate(-90) scale(0.9641 1)" font-size="19.3" font-weight="700" fill="#ffffff" >IMPACT</text>
<text transform="translate(1258.20 694.60) scale(0.9602 1)" font-size="4.5" font-weight="700" fill="#7fdc84" >TM</text>
</g>
</svg>
</body></html>
